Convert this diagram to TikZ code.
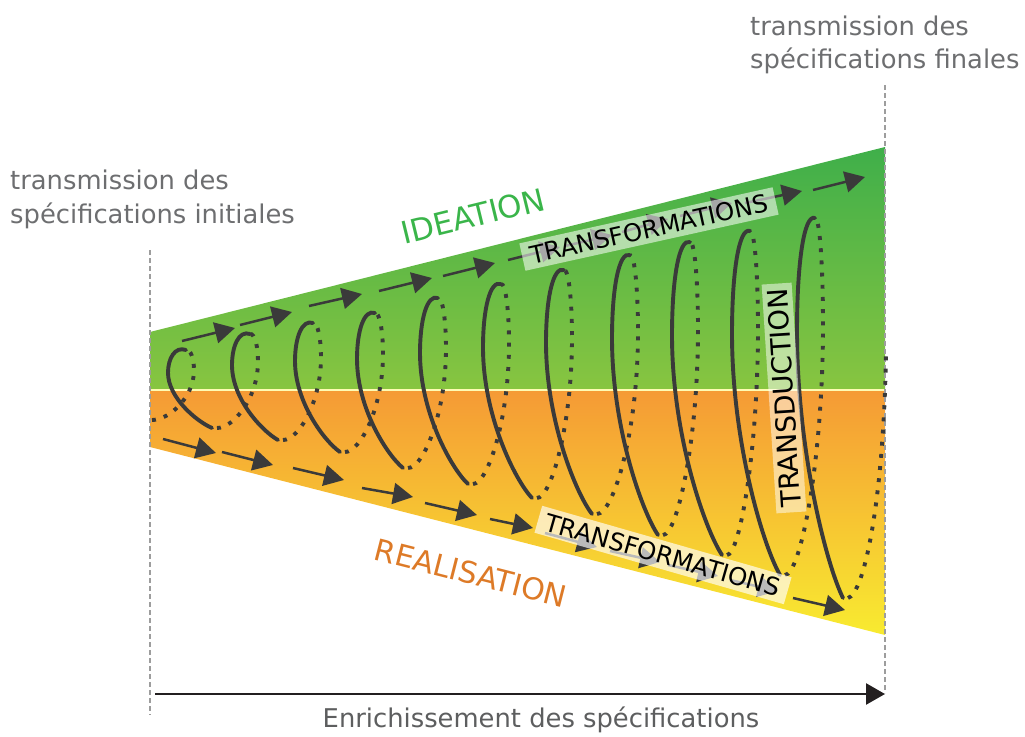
\documentclass[tikz,border=0pt]{standalone}
\usepackage{fontspec}
\setmainfont{DejaVu Sans}
\usetikzlibrary{arrows.meta}
\definecolor{ink}{HTML}{3A3A3A}
\definecolor{greenTop}{HTML}{3FAF4A}
\definecolor{greenBot}{HTML}{88C540}
\definecolor{orTop}{HTML}{F59A35}
\definecolor{orBot}{HTML}{F8EB30}
\definecolor{ideagreen}{HTML}{3AB54A}
\definecolor{realorange}{HTML}{DD7A27}
\definecolor{headgray}{HTML}{6D6E70}
\definecolor{guide}{HTML}{9D9D9D}
\definecolor{axisink}{HTML}{231F20}
\begin{document}
\begin{tikzpicture}[x=1pt,y=-1pt,
  flow/.style={draw=ink,line width=2.5pt,-{Triangle[length=20pt,width=21pt]}},
  front/.style={draw=ink,line width=3.9pt,line cap=round},
  back/.style={draw=ink,line width=3.9pt,dash pattern=on 3.9pt off 8.3pt},
  guideline/.style={draw=guide,line width=2pt,dash pattern=on 5pt off 3pt},
  tag/.style={fill=white,text=black,inner xsep=8pt,inner ysep=3pt,text opacity=1},
  head/.style={anchor=base west,text=headgray,inner sep=0pt,font=\fontsize{25.8}{30}\selectfont},
  ]
\useasboundingbox (0,0) rectangle (1025,736);
% regions
\shade[top color=greenTop,bottom color=greenBot] (150,332) -- (885,147) -- (885,390) -- (150,390) -- cycle;
\shade[top color=orTop,bottom color=orBot] (150,390) -- (885,390) -- (885,635) -- (150,447) -- cycle;
\draw[white!70!yellow,line width=1.5pt] (150,390) -- (885,390);
% guides
\coordinate (gla) at (150,250); \coordinate (glb) at (150,715);
\coordinate (gra) at (885,85);  \coordinate (grb) at (885,693);
\draw[guideline] (gla) -- (glb);
\draw[guideline] (gra) -- (grb);
% upper arrows
\foreach \a/\b/\c/\d in {182/341/235/328, 240/325/292/312, 309/306/362/294, 379/291/432/278,
  443/276/495/263, 508/260/560/247, 565/246/612/235, 622/232/668/219, 680/216/732/203,
  745/203/802/191, 813/190/865/177}
  \draw[flow] (\a,\b) -- (\c,\d);
% lower arrows
\foreach \a/\b/\c/\d in {163/439/216/453, 222/452/273/465, 293/468/344/480, 362/488/413/497,
  425/503/477/515, 490/519/533/528, 545/533/597/547, 610/551/660/562, 668/565/718/576,
  730/580/778/591, 793/598/845/610}
  \draw[flow] (\a,\b) -- (\c,\d);
% front (solid) halves of the helix
\foreach \tx/\ty/\bx/\by in {183/349/212/428, 247/333/278/440, 310/322/340/452, 372/312/403/468,
  435/297/468/484, 498/283/532/498, 561/269/592/514, 627/254/658/535, 687/241/722/555,
  747/230/780/575, 812/217/843/598}
  \draw[front] ({\tx+3},{\ty+1}) .. controls ({\tx-8},{\ty-3}) and ({\tx-15},{\ty+0.12*(\by-\ty)})
    .. ({\tx-15},{\ty+0.3*(\by-\ty)})
    .. controls ({\tx-15},{\ty+0.3*(\by-\ty)+0.315*(\by-\ty)}) and ({\bx-0.35*(\bx-\tx+15)},{\by-0.084*(\by-\ty)})
    .. (\bx,\by);
% back (dotted) halves of the helix
\foreach \bx/\by/\nx/\ny in {147/420/183/349, 212/428/247/333, 278/440/310/322, 340/452/372/312,
  403/468/435/297, 468/484/498/283, 532/498/561/269, 592/514/627/254, 658/535/687/241,
  722/555/747/230, 780/575/812/217}
  \draw[back] ({\bx+5},\by) .. controls ({\bx+5+0.4*(\nx+6-\bx)},\by) and ({\nx+11},{\by-0.315*(\by-\ny)})
    .. ({\nx+11},{\ny+0.3*(\by-\ny)})
    .. controls ({\nx+11},{\ny+0.15*(\by-\ny)}) and ({\nx+8},\ny) .. ({\nx+3},{\ny+1});
\draw[back] (848,598) .. controls (864,594) and (884,500) .. (886,350);
% labels on the process
\node[tag,rotate=12.5,fill opacity=0.55,minimum height=28pt,font=\fontsize{24.5}{29}\selectfont] (tfup) at (649,229) {TRANSFORMATIONS};
\node[tag,rotate=-16,fill opacity=0.65,minimum height=28pt,font=\fontsize{24.5}{29}\selectfont] (tfdown) at (663,555) {TRANSFORMATIONS};
\node[tag,rotate=93.7,fill opacity=0.5,inner xsep=5pt,minimum height=30pt,font=\fontsize{27.5}{32}\selectfont] (transd) at (784,398) {TRANSDUCTION};
\node[text=ideagreen,rotate=13.7,font=\fontsize{31}{36}\selectfont] (ideation) at (473,216) {IDEATION};
\node[text=realorange,rotate=-14.3,font=\fontsize{30}{35}\selectfont] (realisation) at (471,573) {REALISATION};
% headers
\node[head] (h1a) at (10,189) {transmission des};
\node[head] (h1b) at (10,223) {spécifications initiales};
\node[head] (h2a) at (750,35) {transmission des};
\node[head] (h2b) at (750,68) {spécifications finales};
% axis
\coordinate (axs) at (155,694);
\coordinate (axe) at (885,694);
\draw[draw=axisink,line width=2.5pt,-{Triangle[length=19pt,width=21pt]}] (axs) -- (axe);
\node[anchor=base,text=headgray!85!black,inner sep=0pt,font=\fontsize{25.8}{30}\selectfont] (enrich) at (541,727) {Enrichissement des spécifications};
\end{tikzpicture}
\end{document}
